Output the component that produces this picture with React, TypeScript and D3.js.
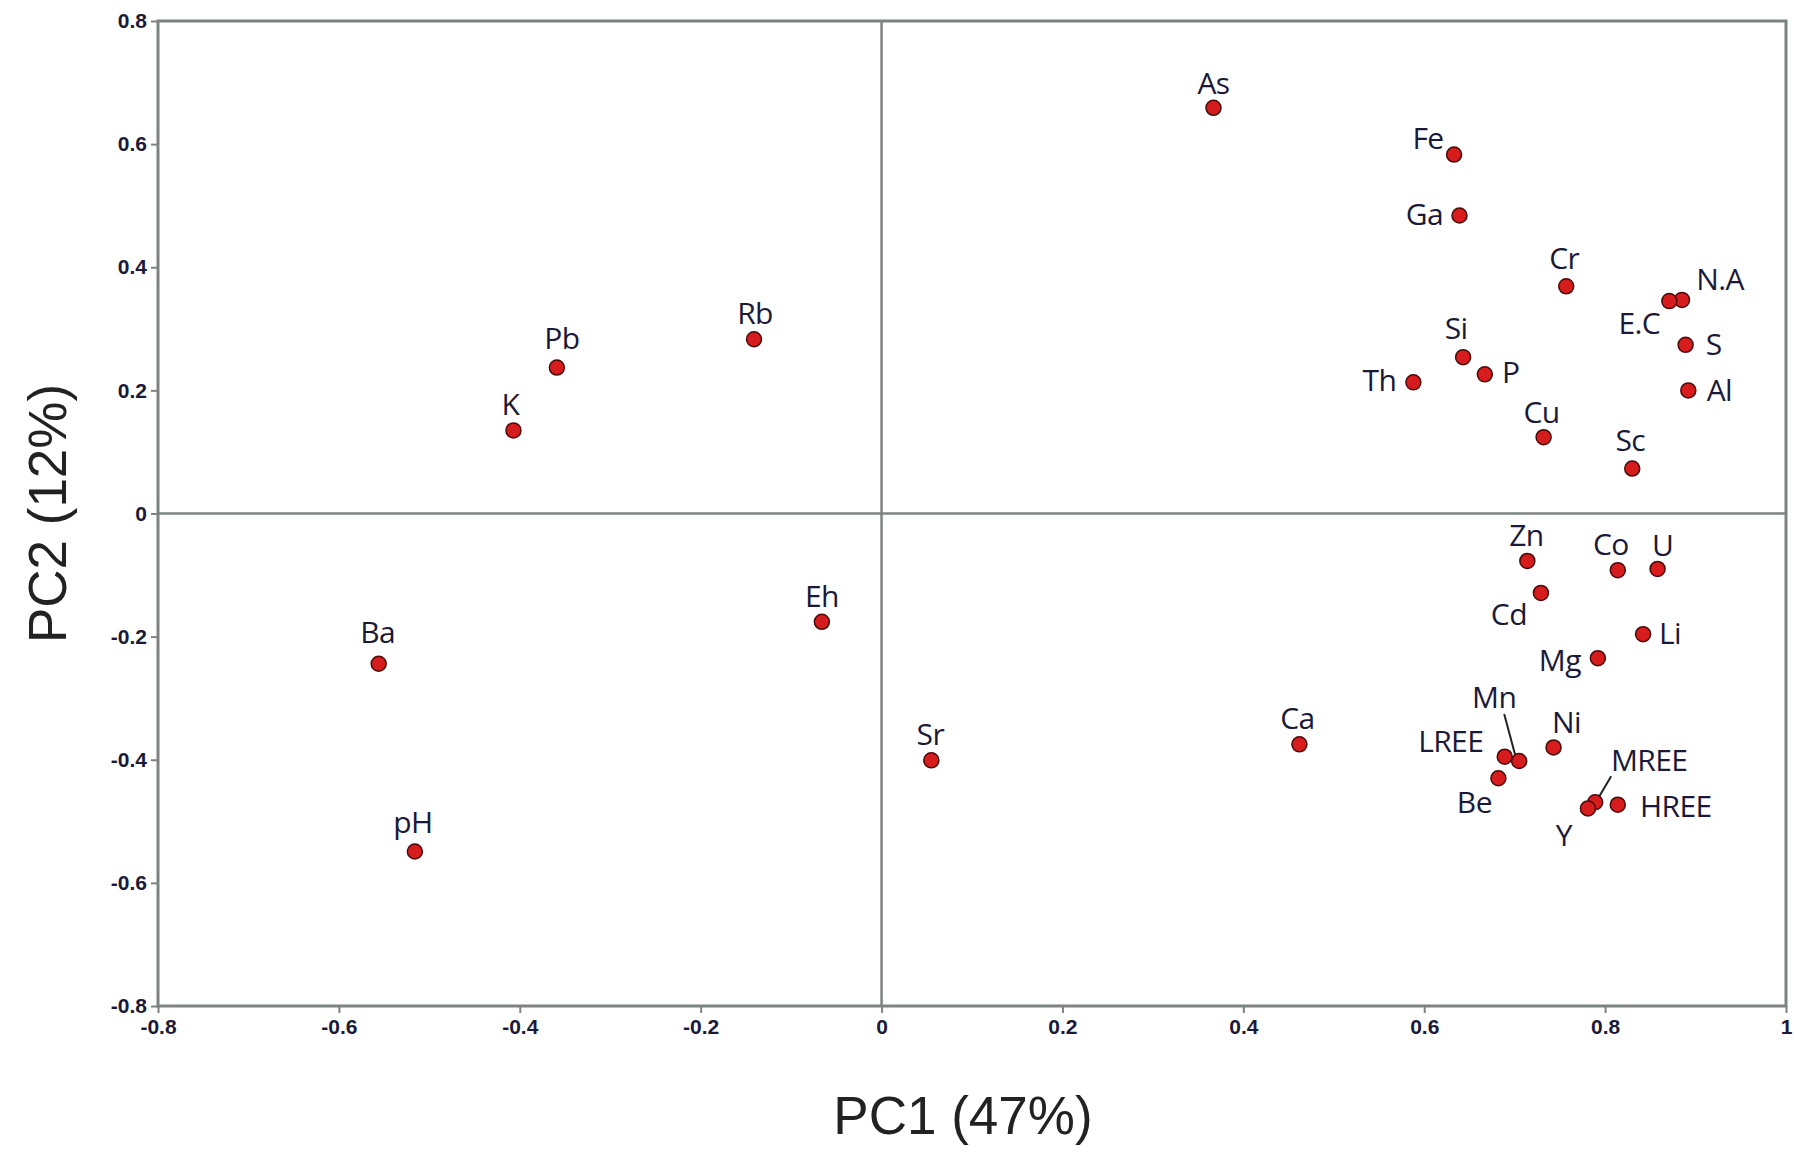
import React, { useRef, useEffect } from 'react';
import * as d3 from 'd3';

// loadings
const elements = [
  'As', 'Fe', 'Ga', 'Cr', 'N.A', 'E.C', 'S', 'Al', 'Si', 'P', 'Th', 'Cu', 'Sc',
  'Rb', 'Pb', 'K', 'Ba', 'pH', 'Eh', 'Sr', 'Ca',
  'Zn', 'Co', 'U', 'Cd', 'Li', 'Mg', 'Ni', 'LREE', 'Mn', 'Be', 'MREE', 'Y', 'HREE',
];
const pc1 = [
  0.367, 0.633, 0.639, 0.757, 0.885, 0.871, 0.889, 0.892, 0.643, 0.667, 0.588, 0.732, 0.83,
  -0.141, -0.359, -0.407, -0.556, -0.516, -0.066, 0.055, 0.462,
  0.714, 0.814, 0.858, 0.729, 0.842, 0.792, 0.743, 0.689, 0.705, 0.682, 0.789, 0.781, 0.814,
];
const pc2 = [
  0.659, 0.583, 0.484, 0.369, 0.347, 0.345, 0.274, 0.2, 0.254, 0.226, 0.213, 0.124, 0.073,
  0.283, 0.237, 0.135, -0.244, -0.549, -0.176, -0.401, -0.375,
  -0.077, -0.092, -0.09, -0.129, -0.196, -0.235, -0.38, -0.395, -0.402, -0.43, -0.469, -0.479, -0.473,
];
const xTicks = [-0.8, -0.6, -0.4, -0.2, 0, 0.2, 0.4, 0.6, 0.8, 1];
const yTicks = [-0.8, -0.6, -0.4, -0.2, 0, 0.2, 0.4, 0.6, 0.8];
const xTitle = 'PC1 (47%)';
const yTitle = 'PC2 (12%)';

interface Loading {
  name: string;
  x: number;
  y: number;
}

const W = 1794;
const H = 1152;

function PcaPlot() {
  const svgRef = useRef<SVGSVGElement>(null);

  useEffect(() => {
    const svg = d3.select(svgRef.current);
    svg.selectAll('*').remove();

    const margin = { top: 21, right: 8, bottom: 146, left: 158 };
    const width = W - margin.left - margin.right;
    const height = H - margin.top - margin.bottom;
    const lineColor = '#7d8380';
    const textColor = '#1a1a38';

    const data: Loading[] = elements.map((name, i) => ({ name, x: pc1[i], y: pc2[i] }));

    const x = d3.scaleLinear().domain([-0.8, 1]).range([0, width]);
    const y = d3.scaleLinear().domain([-0.8, 0.8]).range([height, 0]);

    // label placement around each dot (pixels, label centre relative to dot)
    const offset: Record<string, [number, number]> = {
      As: [0, -25], Fe: [-26, -17], Ga: [-35, -2], Cr: [-2, -29], 'N.A': [38, -21],
      'E.C': [-30, 21], S: [28, -1], Al: [31, -1], Si: [-7, -30], P: [26, -3],
      Th: [-34, -3], Cu: [-2, -26], Sc: [-2, -29], Rb: [1, -27], Pb: [5, -30],
      K: [-3, -27], Ba: [-1, -32], pH: [-2, -30], Eh: [0, -26], Sr: [-1, -27],
      Ca: [-2, -27], Zn: [-1, -26], Co: [-7, -27], U: [5, -24], Cd: [-32, 21],
      Li: [27, -2], Mg: [-38, 1], Ni: [13, -26], LREE: [-54, -16], Mn: [-25, -64],
      Be: [-24, 23], MREE: [54, -43], Y: [-24, 26], HREE: [58, 1],
    };
    const leaders: Record<string, [number, number, number, number]> = {
      Mn: [-15, -47, -4, -6],
      MREE: [16, -26, 3, -4],
    };

    const g = svg.append('g').attr('transform', `translate(${margin.left},${margin.top})`);

    // frame
    g.append('rect')
      .attr('width', width)
      .attr('height', height)
      .attr('fill', 'none')
      .attr('stroke', lineColor)
      .attr('stroke-width', 3);

    // zero lines
    g.append('line')
      .attr('x1', x(0)).attr('x2', x(0))
      .attr('y1', 0).attr('y2', height)
      .attr('stroke', lineColor).attr('stroke-width', 2.5);
    g.append('line')
      .attr('x1', 0).attr('x2', width)
      .attr('y1', y(0)).attr('y2', y(0))
      .attr('stroke', lineColor).attr('stroke-width', 2.5);

    const fmt = (d: d3.NumberValue) => (+d === 0 ? '0' : String(+(+d).toFixed(1)));

    // x axis
    const xAxis = g.append('g')
      .attr('transform', `translate(0,${height})`)
      .call(d3.axisBottom(x).tickValues(xTicks).tickFormat(fmt).tickSize(7).tickPadding(6));
    // y axis
    const yAxis = g.append('g')
      .call(d3.axisLeft(y).tickValues(yTicks).tickFormat(fmt).tickSize(7).tickPadding(4));

    [xAxis, yAxis].forEach((ax) => {
      ax.select('.domain').remove();
      ax.selectAll('.tick line').attr('stroke', lineColor).attr('stroke-width', 2);
      ax.selectAll('.tick text')
        .attr('fill', textColor)
        .attr('font-family', 'Liberation Sans, Arial, sans-serif')
        .attr('font-weight', 'bold')
        .attr('font-size', 21);
    });

    // axis titles
    svg.append('text')
      .attr('x', margin.left + x(0.09))
      .attr('y', 1134)
      .attr('text-anchor', 'middle')
      .attr('font-family', 'Liberation Sans, Arial, sans-serif')
      .attr('font-size', 53)
      .attr('fill', '#222')
      .text(xTitle);
    svg.append('text')
      .attr('transform', `translate(66,${margin.top + y(0)}) rotate(-90)`)
      .attr('text-anchor', 'middle')
      .attr('font-family', 'Liberation Sans, Arial, sans-serif')
      .attr('font-size', 53)
      .attr('fill', '#222')
      .text(yTitle);

    // leader lines
    g.selectAll('.leader')
      .data(data.filter((d) => leaders[d.name]))
      .enter()
      .append('line')
      .attr('x1', (d) => x(d.x) + leaders[d.name][0])
      .attr('y1', (d) => y(d.y) + leaders[d.name][1])
      .attr('x2', (d) => x(d.x) + leaders[d.name][2])
      .attr('y2', (d) => y(d.y) + leaders[d.name][3])
      .attr('stroke', '#222')
      .attr('stroke-width', 2);

    // points
    g.selectAll('.dot')
      .data(data)
      .enter()
      .append('circle')
      .attr('cx', (d) => x(d.x))
      .attr('cy', (d) => y(d.y))
      .attr('r', 7.5)
      .attr('fill', '#d61c1c')
      .attr('stroke', '#4a0a0a')
      .attr('stroke-width', 1.5);

    // labels
    g.selectAll('.label')
      .data(data)
      .enter()
      .append('text')
      .attr('x', (d) => x(d.x) + (offset[d.name]?.[0] ?? 0))
      .attr('y', (d) => y(d.y) + (offset[d.name]?.[1] ?? -26))
      .attr('text-anchor', 'middle')
      .attr('dominant-baseline', 'central')
      .attr('font-family', 'Open Sans, Noto Sans, sans-serif')
      .attr('font-size', 30)
      .attr('letter-spacing', -0.6)
      .attr('fill', textColor)
      .text((d) => d.name);
  }, []);

  return (
    <svg
      ref={svgRef}
      width={W}
      height={H}
      style={{ position: 'absolute', left: 0, top: 0, display: 'block', background: '#fff' }}
    />
  );
}

export default function App() {
  return <PcaPlot />;
}
